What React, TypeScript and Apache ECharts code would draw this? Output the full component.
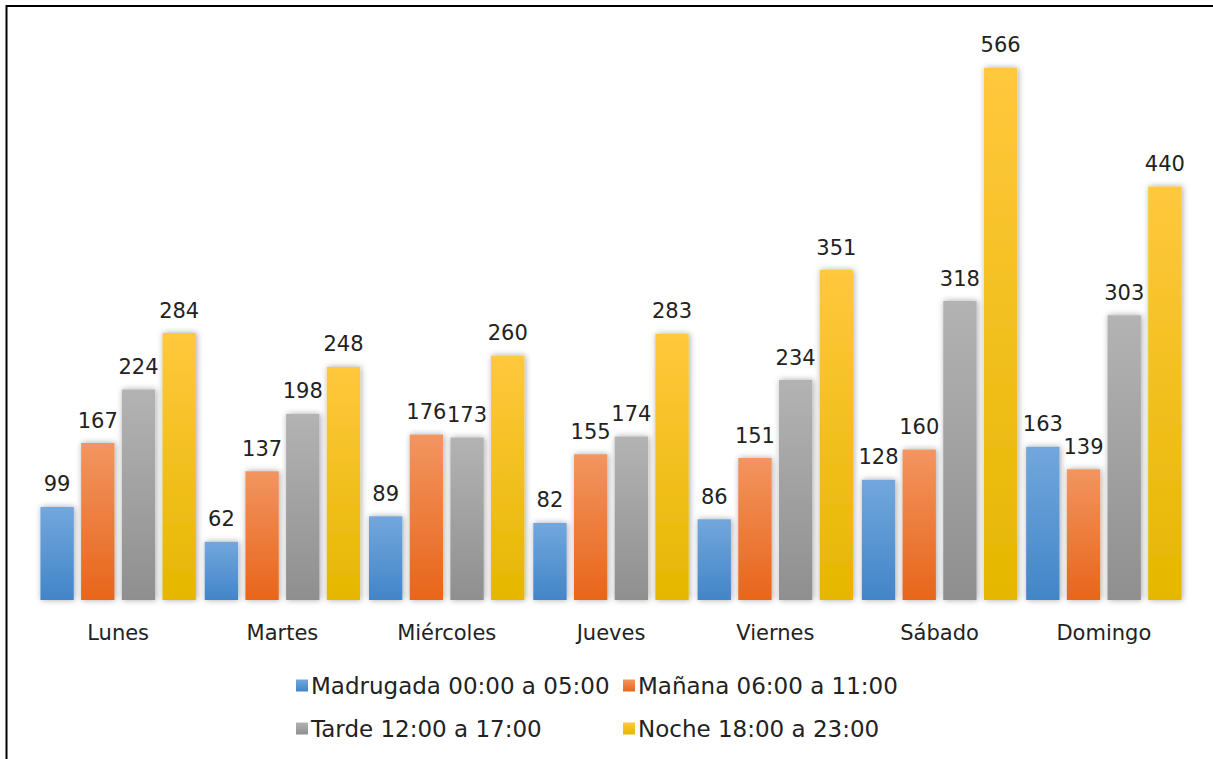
import React, { useEffect, useRef } from "react";
import * as echarts from "echarts";

const categories = ["Lunes", "Martes", "Miércoles", "Jueves", "Viernes", "Sábado", "Domingo"];
const seriesNames = [
  "Madrugada 00:00 a 05:00",
  "Mañana 06:00 a 11:00",
  "Tarde 12:00 a 17:00",
  "Noche 18:00 a 23:00",
];
const madrugada = [99, 62, 89, 82, 86, 128, 163];
const manana = [167, 137, 176, 155, 151, 160, 139];
const tarde = [224, 198, 173, 174, 234, 318, 303];
const noche = [284, 248, 260, 283, 351, 566, 440];

const gradients: [string, string][] = [
  ["#72A7DD", "#4285C8"],
  ["#F29560", "#E8651A"],
  ["#B3B3B3", "#8F8F8F"],
  ["#FFC83D", "#E5B700"],
];

const FONT = "DejaVu Sans";

export default function App() {
  const ref = useRef<HTMLDivElement>(null);
  useEffect(() => {
    document.body.style.margin = "0";
    const chart = echarts.init(ref.current!, null, { renderer: "svg" });
    const values = [madrugada, manana, tarde, noche];
    const grad = (i: number) =>
      new echarts.graphic.LinearGradient(0, 0, 0, 1, [
        { offset: 0, color: gradients[i][0] },
        { offset: 1, color: gradients[i][1] },
      ]);
    const legendText = { fontSize: 23, color: "#222222", fontFamily: FONT, padding: [0, 0, 0, -2] };
    chart.setOption({
      animation: false,
      backgroundColor: "#ffffff",
      textStyle: { fontFamily: FONT },
      grid: { left: 36, right: 27, top: 36, bottom: 159 },
      xAxis: {
        type: "category",
        data: categories,
        axisTick: { show: false },
        axisLine: { lineStyle: { color: "#D9D9D9", width: 2.5, shadowColor: "rgba(0,0,0,0.25)", shadowBlur: 3, shadowOffsetY: 1 } },
        axisLabel: { margin: 22, fontSize: 21, color: "#222222", fontFamily: FONT },
      },
      yAxis: { type: "value", min: 0, max: 600, show: false, splitLine: { show: false } },
      legend: [
        {
          data: [seriesNames[0], seriesNames[2]],
          orient: "vertical",
          left: 291,
          top: 669,
          icon: "rect",
          itemWidth: 12,
          itemHeight: 12,
          itemGap: 20,
          textStyle: legendText,
        },
        {
          data: [seriesNames[1], seriesNames[3]],
          orient: "vertical",
          left: 618,
          top: 669,
          icon: "rect",
          itemWidth: 12,
          itemHeight: 12,
          itemGap: 20,
          textStyle: legendText,
        },
      ],
      graphic: [
        {
          type: "rect",
          shape: { x: 6.5, y: 6, width: 1400, height: 1000 },
          style: { fill: "none", stroke: "#000000", lineWidth: 2 },
          silent: true,
        },
      ],
      series: seriesNames.map((name, i) => ({
        name,
        type: "bar",
        data: values[i],
        barGap: "22%",
        barCategoryGap: "5.4%",
        itemStyle: {
          color: grad(i),
          shadowColor: "rgba(0,0,0,0.35)",
          shadowBlur: 6,
          shadowOffsetX: 1,
          shadowOffsetY: 0,
        },
        label: {
          show: true,
          position: "top",
          distance: 12,
          fontSize: 21,
          color: "#222222",
          fontFamily: FONT,
        },
      })),
    });
    return () => chart.dispose();
  }, []);
  return <div ref={ref} style={{ width: 1213, height: 759 }} />;
}
